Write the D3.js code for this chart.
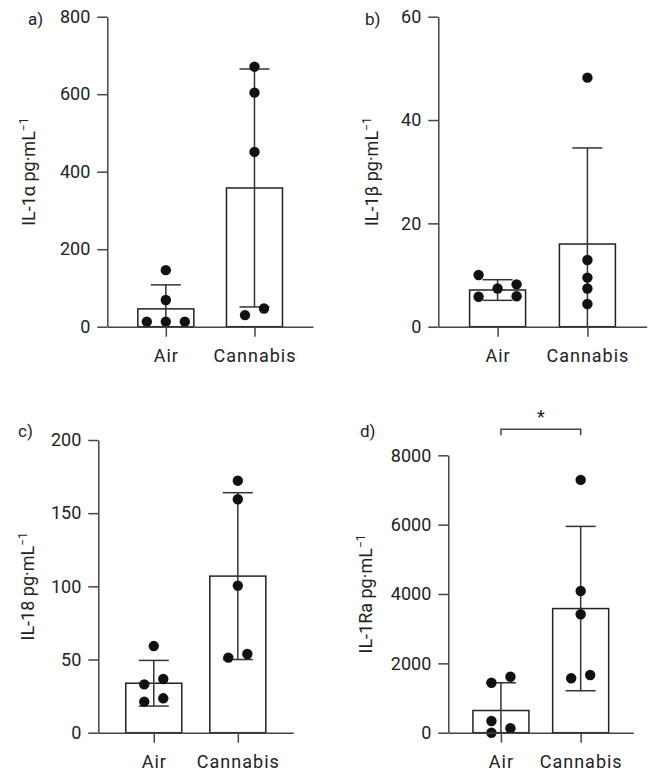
<!DOCTYPE html>
<html>
<head>
<meta charset="utf-8">
<script src="https://cdn.jsdelivr.net/npm/d3@7"></script>
<style>
  body { margin: 0; background: #fff; }
  svg { display: block; font-family: Roboto, "Noto Sans", sans-serif; }
</style>
</head>
<body>
<div id="chart"></div>
<script>
// Group names on every x axis
const groups = ['Air', 'Cannabis'];

// a) IL-1alpha: individual values, bar means, SD
const il1aAir = [146, 69, 13, 13, 13];
const il1aAirLane = [0, 0, -2, 0, 2];
const il1aCannabis = [671, 604, 451, 30, 47];
const il1aCannabisLane = [0, 0, 0, -1, 1];
const il1aMean = [46, 358];
const il1aSd = [62, 307];
const il1aTicks = [0, 200, 400, 600, 800];

// b) IL-1beta
const il1bAir = [10.0, 7.4, 8.2, 5.8, 5.9];
const il1bAirLane = [-2, 0, 2, -2, 2];
const il1bCannabis = [48.2, 12.9, 9.5, 7.4, 4.4];
const il1bCannabisLane = [0, 0, 0, 0, 0];
const il1bMean = [7.1, 16.0];
const il1bSd = [2.0, 18.6];
const il1bTicks = [0, 20, 40, 60];

// c) IL-18
const il18Air = [59.2, 33, 36.7, 21.2, 23.5];
const il18AirLane = [0, -1, 1, -1, 1];
const il18Cannabis = [172.2, 159.5, 100.5, 51.3, 53.8];
const il18CannabisLane = [0, 0, 0, -1, 1];
const il18Mean = [33.8, 107];
const il18Sd = [15.6, 57];
const il18Ticks = [0, 50, 100, 150, 200];

// d) IL-1Ra
const il1raAir = [1442, 1615, 337, 127, 0];
const il1raAirLane = [-1, 1, -1, 1, -1];
const il1raCannabis = [7290, 4088, 3415, 1569, 1665];
const il1raCannabisLane = [0, 0, 0, -1, 1];
const il1raMean = [640, 3580];
const il1raSd = [800, 2370];
const il1raTicks = [0, 2000, 4000, 6000, 8000];

const width = 651, height = 773;
const textColor = '#222';
const axisColor = '#444';

const panels = [
  { label: 'a)', title: 'IL-1α pg·mL', points: [il1aAir, il1aCannabis], lanes: [il1aAirLane, il1aCannabisLane],
    mean: il1aMean, sd: il1aSd, ticks: il1aTicks,
    x0: 107.3, x1: 313, top: 16.7, bottom: 326.7, titleX: 35, labelX: 28, labelY: 25 },
  { label: 'b)', title: 'IL-1β pg·mL', points: [il1bAir, il1bCannabis], lanes: [il1bAirLane, il1bCannabisLane],
    mean: il1bMean, sd: il1bSd, ticks: il1bTicks,
    x0: 438.3, x1: 646.7, top: 16.7, bottom: 326.7, titleX: 378, labelX: 365, labelY: 25 },
  { label: 'c)', title: 'IL-18 pg·mL', points: [il18Air, il18Cannabis], lanes: [il18AirLane, il18CannabisLane],
    mean: il18Mean, sd: il18Sd, ticks: il18Ticks,
    x0: 98.3, x1: 293.3, top: 440, bottom: 732.7, titleX: 34, labelX: 18, labelY: 437 },
  { label: 'd)', title: 'IL-1Ra pg·mL', points: [il1raAir, il1raCannabis], lanes: [il1raAirLane, il1raCannabisLane],
    mean: il1raMean, sd: il1raSd, ticks: il1raTicks,
    x0: 448.3, x1: 633.3, top: 455.3, bottom: 732.7, titleX: 371.5, labelX: 360, labelY: 437,
    significance: '*' }
];

const svg = d3.select('#chart').append('svg')
  .attr('width', width)
  .attr('height', height);

const barWidth = 56;
const capHalf = 15;
const dotRadius = 5.2;
// one lane = half a dot spacing
const laneScale = d3.scaleLinear().domain([-1, 1]).range([-9.5, 9.5]);

panels.forEach(p => {
  const g = svg.append('g');

  const x = d3.scalePoint()
    .domain(groups)
    .range([p.x0, p.x1])
    .padding(0.66);

  const y = d3.scaleLinear()
    .domain([0, d3.max(p.ticks)])
    .range([p.bottom, p.top]);

  // bars
  g.selectAll('.bar')
    .data(groups)
    .join('rect')
    .attr('class', 'bar')
    .attr('x', d => x(d) - barWidth / 2)
    .attr('y', (d, i) => y(p.mean[i]))
    .attr('width', barWidth)
    .attr('height', (d, i) => y(0) - y(p.mean[i]))
    .attr('fill', '#fff')
    .attr('stroke', '#222')
    .attr('stroke-width', 1.5);

  // error bars (mean +/- SD, clipped at zero)
  groups.forEach((grp, i) => {
    const hi = p.mean[i] + p.sd[i];
    const lo = p.mean[i] - p.sd[i];
    const cx = x(grp);
    const eb = g.append('g')
      .attr('stroke', '#333')
      .attr('stroke-width', 1.5);
    eb.append('line')
      .attr('x1', cx).attr('x2', cx)
      .attr('y1', y(hi)).attr('y2', y(Math.max(lo, 0)));
    eb.append('line')
      .attr('x1', cx - capHalf).attr('x2', cx + capHalf)
      .attr('y1', y(hi)).attr('y2', y(hi));
    if (lo > 0) {
      eb.append('line')
        .attr('x1', cx - capHalf).attr('x2', cx + capHalf)
        .attr('y1', y(lo)).attr('y2', y(lo));
    }
  });

  // individual points
  groups.forEach((grp, i) => {
    g.append('g')
      .selectAll('circle')
      .data(p.points[i])
      .join('circle')
      .attr('cx', (d, j) => x(grp) + laneScale(p.lanes[i][j]))
      .attr('cy', d => y(d))
      .attr('r', dotRadius)
      .attr('fill', '#111');
  });

  // y axis
  const yAxis = g.append('g')
    .attr('transform', `translate(${p.x0},0)`)
    .call(d3.axisLeft(y).tickValues(p.ticks).tickFormat(d3.format('d'))
      .tickSize(10).tickSizeOuter(0).tickPadding(7));

  // x axis
  const xAxis = g.append('g')
    .attr('transform', `translate(0,${p.bottom})`)
    .call(d3.axisBottom(x).tickSize(10).tickSizeOuter(0).tickPadding(13));

  [yAxis, xAxis].forEach(ax => {
    ax.selectAll('path, line')
      .attr('stroke', axisColor)
      .attr('stroke-width', 1.5);
    ax.selectAll('text')
      .attr('fill', textColor)
      .attr('font-size', '18px')
      .attr('font-family', 'Roboto, sans-serif');
  });
  xAxis.selectAll('text').attr('letter-spacing', '1px');

  // y axis title
  const title = g.append('text')
    .attr('transform', `translate(${p.titleX},${(p.top + p.bottom) / 2}) rotate(-90)`)
    .attr('text-anchor', 'middle')
    .attr('fill', textColor)
    .attr('font-size', '18px')
    .text(p.title);
  title.append('tspan')
    .attr('font-size', '12px')
    .attr('dy', '-7')
    .text('−1');

  // panel letter
  g.append('text')
    .attr('x', p.labelX)
    .attr('y', p.labelY)
    .attr('fill', textColor)
    .attr('font-size', '17px')
    .text(p.label);

  // significance bracket
  if (p.significance) {
    const bx0 = x(groups[0]), bx1 = x(groups[1]);
    const by = 429.3;
    g.append('path')
      .attr('d', `M${bx0},${by + 6}V${by}H${bx1}V${by + 6}`)
      .attr('fill', 'none')
      .attr('stroke', axisColor)
      .attr('stroke-width', 1.5);
    g.append('text')
      .attr('x', (bx0 + bx1) / 2)
      .attr('y', by - 6.5)
      .attr('text-anchor', 'middle')
      .attr('fill', textColor)
      .attr('font-size', '18px')
      .text(p.significance);
  }
});
</script>
</body>
</html>
